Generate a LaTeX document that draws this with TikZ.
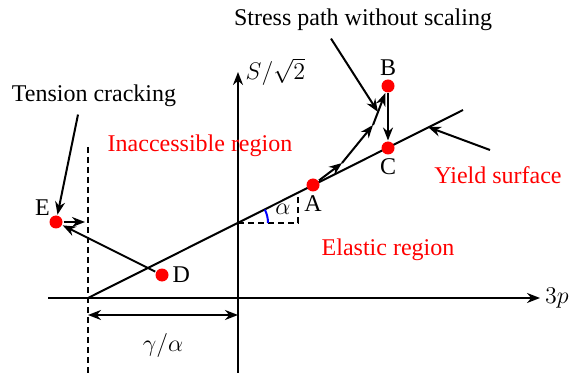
\documentclass[tikz,border=0pt]{standalone}
\usepackage{fontspec}
\setmainfont{Liberation Serif}
\usetikzlibrary{arrows.meta}
\begin{document}
\begin{tikzpicture}[x=0.5pt,y=-0.5pt,line width=1pt,
  >={Stealth[length=6.5pt,width=5pt]},
  font=\fontsize{12}{14}\selectfont,
  dot/.style={circle,fill=red,inner sep=0pt,minimum size=6.5pt},
  region/.style={text=red},
  cutoff/.style={dashed,dash pattern=on 3pt off 2pt}]
  \useasboundingbox (0,0) rectangle (571,373);

  % Axes
  \coordinate (xl) at (48,298);
  \coordinate (xr) at (540,298);
  \coordinate (yb) at (238,373);
  \coordinate (yt) at (238,72);
  \draw[->] (xl) -- (xr) node[right,inner sep=2pt] {$3p$};
  \draw[->] (yb) -- (yt) node[right] {$S/\sqrt{2}$};

  % Yield surface and tension cut-off
  \coordinate (O) at (88,298);
  \coordinate (Y) at (463,110);
  \draw (O) -- (Y);
  \coordinate (ct) at (88,147);
  \coordinate (cb) at (88,373);
  \draw[cutoff] (ct) -- (cb);

  % Angle alpha
  \coordinate (I) at (238,223);
  \coordinate (K) at (298,223);
  \coordinate (L) at (298,193);
  \draw[cutoff] (I) -- (K) -- (L);
  \draw[blue] ([xshift=15pt]I) arc[start angle=0,end angle=26.6,radius=15pt];
  \node (alpha) at (283,209) {$\alpha$};

  % Stress points
  \node[dot,label={[inner sep=1pt]below:A}] (A) at (313,185) {};
  \node[dot,label={[inner sep=1pt]above:B}] (B) at (388,86) {};
  \node[dot,label={[inner sep=1pt]below:C}] (C) at (388,148) {};
  \node[dot,label={[inner sep=1pt]right:D}] (D) at (162,275) {};
  \node[dot,label={[inner sep=0pt]above left:E}] (E) at (56,222) {};

  % Stress paths
  \coordinate (P1) at (342,163);
  \coordinate (P2) at (373,125);
  \draw[->] (A) -- (P1);
  \draw[->] (P1) -- (P2);
  \draw[->] (P2) -- (B);
  \draw[->] (B) -- (C);
  \draw[->] (D) -- (E);
  \coordinate (Ec) at (85,222);
  \draw[->] (E) -- (Ec);

  % Labels
  \node[region] (inacc) at (200,146) {Inaccessible region};
  \node[region] (elastic) at (388,250) {Elastic region};
  \node[region] (ys) at (498,175) {Yield surface};
  \coordinate (ysa) at (490,150);
  \coordinate (ysb) at (428,127);
  \draw[->] (ysa) -- (ysb);

  \node (tc) at (94,96) {Tension cracking};
  \draw[->] ([xshift=-8pt]tc.south) -- (E);

  \node (sp) at (363,20) {Stress path without scaling};
  \coordinate (spb) at (378,112);
  \draw[->] ([xshift=-16pt]sp.south) -- (spb);

  % Offset gamma/alpha
  \coordinate (g1) at (88,315);
  \coordinate (g2) at (238,315);
  \draw[<->] (g1) -- (g2);
  \node (ga) at (163,345) {$\gamma/\alpha$};
\end{tikzpicture}
\end{document}
